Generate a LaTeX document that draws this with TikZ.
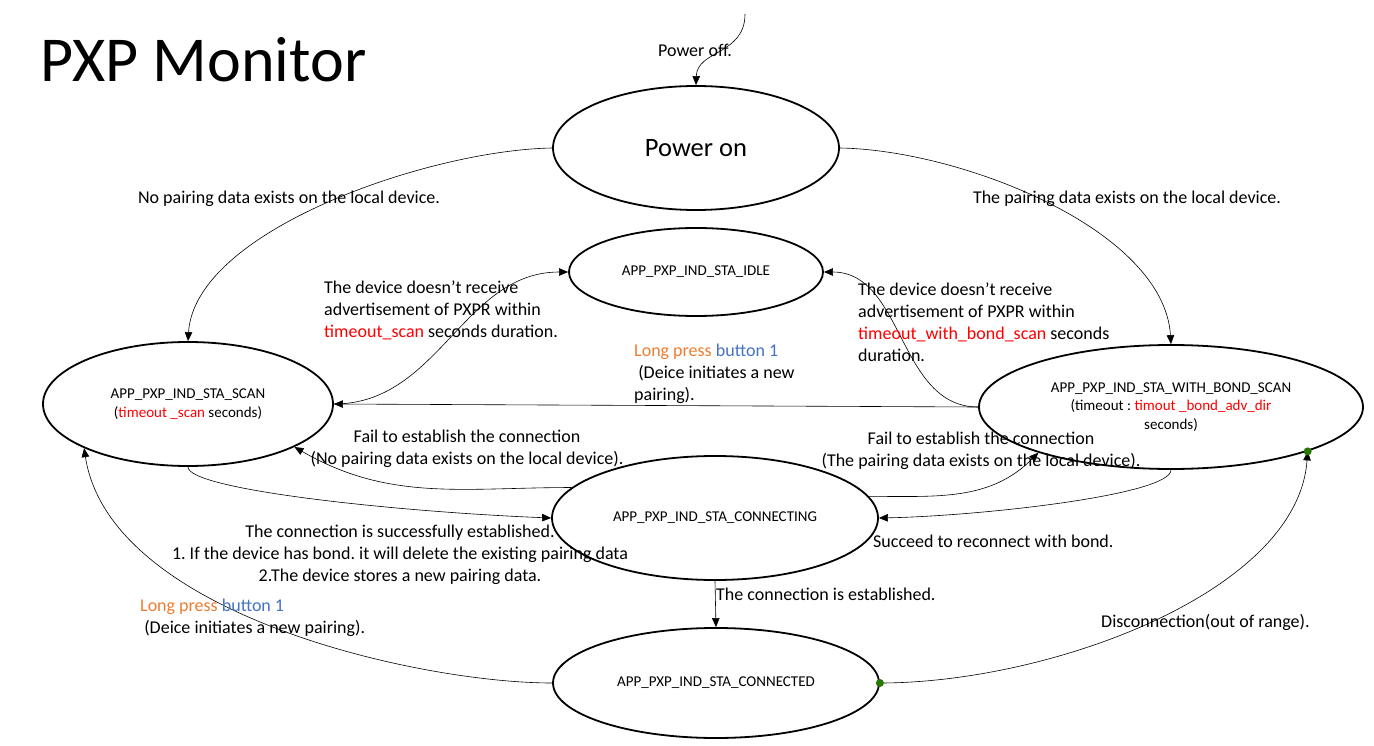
\documentclass[tikz,border=0pt]{standalone}
\usepackage{fontspec}
\setmainfont{Carlito}
\usetikzlibrary{shapes.geometric,arrows.meta}
\definecolor{tmred}{RGB}{255,0,0}
\definecolor{lporange}{RGB}{237,125,49}
\definecolor{lpblue}{RGB}{68,114,196}
\definecolor{dotgreen}{RGB}{40,120,0}
\frenchspacing

\tikzset{
  state/.style={ellipse,draw,line width=1.8pt,inner sep=0pt,align=center,
    font=\fontsize{15}{18.5}\selectfont},
  trans/.style={line width=0.6pt,-{Triangle[length=9pt,width=7.5pt]}},
  lbl/.style={inner sep=0pt,font=\fontsize{18}{22}\selectfont},
  gdot/.style={circle,fill=dotgreen,inner sep=0pt,minimum size=8pt}
}

\begin{document}
\begin{tikzpicture}[x=1pt,y=1pt]
    \useasboundingbox (0,0) rectangle (1374,-746);

    % Title
    \node[anchor=base west,inner sep=0pt,font=\fontsize{64}{70}\selectfont] (title) at (40,-82) {PXP Monitor};

    % States
    \node[state,minimum width=286pt,minimum height=124pt,font=\fontsize{26.5}{30}\selectfont] (pon) at (696,-148) {Power on};
    \node[state,minimum width=254pt,minimum height=88pt] (idle) at (696,-272) {APP\_PXP\_IND\_STA\_IDLE};
    \node[state,minimum width=290pt,minimum height=124pt] (scan) at (188,-404) {APP\_PXP\_IND\_STA\_SCAN\\(\textcolor{tmred}{timeout \_scan} seconds)};
    \node[state,minimum width=384pt,minimum height=124pt] (bond) at (1171,-407) {APP\_PXP\_IND\_STA\_WITH\_BOND\_SCAN\\(timeout : \textcolor{tmred}{timout \_bond\_adv\_dir}\\seconds)};
    \node[state,minimum width=326pt,minimum height=124pt] (cing) at (715,-518) {APP\_PXP\_IND\_STA\_CONNECTING};
    \node[state,minimum width=326pt,minimum height=110pt] (cted) at (716,-683) {APP\_PXP\_IND\_STA\_CONNECTED};

    % Transitions
    \coordinate (off) at (745,-14);
    \draw[trans] (off) .. controls (745,-55) and (697,-50) .. (pon.north);
    \draw[trans] (pon.west) .. controls (430,-150) and (195,-230) .. (scan.north);
    \draw[trans] (pon.east) .. controls (962,-150) and (1164,-230) .. (bond.north);
    \draw[trans] (scan.east) to[out=0,in=180] (idle.west);
    \draw[trans] (bond.west) to[out=180,in=0] (idle.east);
    \draw[trans] (bond.west) -- (scan.east);
    \draw[trans] (scan.south) .. controls (188,-490) and (400,-512) .. (cing.west);
    \draw[trans] (cing.168) to[out=180,in=-30] (scan.-22);
    \draw[trans] (cing.8) to[out=0,in=225] (bond.199);
    \draw[trans] (bond.south) .. controls (1171,-495) and (980,-516) .. (cing.east);
    \draw[trans] (cted.west) .. controls (420,-683) and (110,-615) .. (scan.203);
    \draw[trans] (cing.south) -- (cted.north);
    \draw[trans] (cted.east) .. controls (1050,-683) and (1298,-592) .. (bond.-18);
    \node[gdot] (dota) at (cted.east) {};
    \node[gdot] (dotb) at (bond.-18) {};

    % Labels
    \node[lbl] (loff) at (695,-50) {Power off.};
    \node[lbl] (lnopair) at (289,-199) {No pairing data exists on the local device.};
    \node[lbl] (lpair) at (1127,-199) {The pairing data exists on the local device.};
    \node[lbl,anchor=west,align=left] (ltoscan) at (324,-310) {The device doesn’t receive\\advertisement of PXPR within\\\textcolor{tmred}{timeout\_scan} seconds duration.};
    \node[lbl,anchor=west,align=left] (ltobond) at (858,-322) {The device doesn’t receive\\advertisement of PXPR within\\\textcolor{tmred}{timeout\_with\_bond\_scan} seconds\\duration.};
    \node[lbl,anchor=west,align=left] (llpa) at (634,-374) {\textcolor{lporange}{Long press} \textcolor{lpblue}{button 1}\\\ (Deice initiates a new\\pairing).};
    \node[lbl,align=center] (lfaila) at (467,-449) {Fail to establish the connection\\(No pairing data exists on the local device).};
    \node[lbl,align=center] (lfailb) at (981,-451) {Fail to establish the connection\\(The pairing data exists on the local device).};
    \node[lbl,align=center] (lsucc) at (400,-555) {The connection is successfully established.\\1. If the device has bond. it will delete the existing pairing data\\2.The device stores a new pairing data.};
    \node[lbl,anchor=west] (lrecon) at (873,-541) {Succeed to reconnect with bond.};
    \node[lbl,anchor=west] (lestab) at (716,-594) {The connection is established.};
    \node[lbl,anchor=west,align=left] (llpb) at (140,-618) {\textcolor{lporange}{Long press} \textcolor{lpblue}{button 1}\\\ (Deice initiates a new pairing).};
    \node[lbl,anchor=west] (ldisc) at (1101,-622) {Disconnection(out of range).};
\end{tikzpicture}
\end{document}
